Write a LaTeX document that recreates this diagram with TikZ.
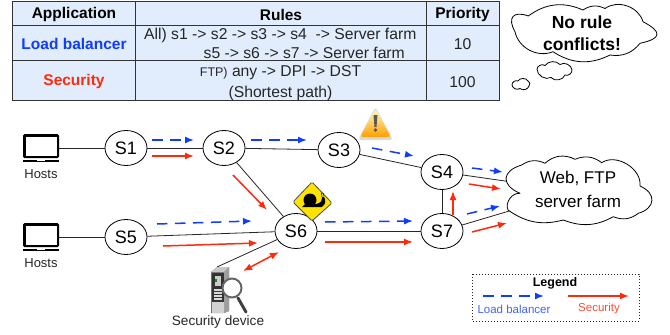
\documentclass[tikz,border=0pt]{standalone}
\usepackage{fontspec}
\setmainfont{Liberation Sans}
\usetikzlibrary{shapes.geometric,arrows.meta,calc}
\definecolor{tb}{HTML}{E1ECFD}
\definecolor{bl}{HTML}{0F3CFF}
\definecolor{rd}{HTML}{FF2A0C}
\tikzset{
 sw/.style={draw=black,line width=0.8pt,ellipse,minimum width=42pt,minimum height=35pt,inner sep=0pt,font=\fontsize{18}{18}\selectfont,fill=white},
 lnk/.style={draw=black!85,line width=0.8pt},
 cell/.style={draw=black!80,line width=1pt,fill=tb},
 ttxt/.style={font=\fontsize{15.7}{16}\selectfont,align=center,text=black!85},
 thead/.style={font=\fontsize{15.5}{16}\selectfont\bfseries,align=center},
 blarr/.style={draw=bl,line width=1.5pt,dash pattern=on 10.5pt off 7.5pt,-{Latex[length=9pt,width=7pt]}},
 rdarr/.style={draw=rd,line width=1.5pt,-{Latex[length=9pt,width=7pt]}},
 rddbl/.style={draw=rd,line width=1.5pt,{Latex[length=9pt,width=7pt]}-{Latex[length=9pt,width=7pt]}},
 small/.style={font=\fontsize{13}{14}\selectfont,text=black!85},
 puff/.style={draw=black,line width=0.8pt,fill=white,line join=round},
 bb/.style 2 args={bend left=#1,looseness=#2},
}
\newcommand{\laptop}[2]{%
 \fill[black,rounded corners=1.5pt] (#1-18,#2-15) rectangle (#1+18,#2+9);
 \fill[white] (#1-15.5,#2-12.5) rectangle (#1+15.5,#2+6.5);
 \fill[black] (#1-18,#2+10.5) rectangle (#1+18,#2+13);
 \fill[white] (#1-4,#2+10.5) rectangle (#1+4,#2+11.3);
}
\begin{document}
\begin{tikzpicture}[x=1pt,y=-1pt]
\useasboundingbox (0,0) rectangle (670,335);
% table
\foreach \xa/\xb/\ya/\yb in {12.7/135/1.7/25,135/426.3/1.7/25,426.3/499/1.7/25,12.7/135/25/60,135/426.3/25/60,426.3/499/25/60,12.7/135/60/100.7,135/426.3/60/100.7,426.3/499/60/100.7}
 \draw[cell] (\xa,\ya) rectangle (\xb,\yb);
\node[thead] (h1) at (74,14.5) {Application};
\node[thead] (h2) at (281,14.5) {Rules};
\node[thead] (h3) at (462.5,14.5) {Priority};
\node[thead,text=bl] (a1) at (74,44) {Load balancer};
\node[thead,text=rd] (a2) at (74,81) {Security};
\node[ttxt,anchor=base west,inner sep=0pt] (r1) at (144,39) {All) s1 -> s2 -> s3 -> s4 \ -> Server farm};
\node[ttxt,anchor=base west,inner sep=0pt] (r2) at (203.5,58) {s5 -> s6 -> s7 -> Server farm};
\node[ttxt,anchor=base,inner sep=0pt] (r3) at (280.5,76.5) {{\fontsize{12.5}{12}\selectfont FTP)} any -> DPI -> DST};
\node[ttxt,anchor=base,inner sep=0pt] (r4) at (280.5,97) {(Shortest path)};
\node[ttxt] (p1) at (462.5,44) {10};
\node[ttxt] (p2) at (462.5,82) {100};
% thought cloud
\draw[puff] (515,31.7) to[bb={70}{2}] (528.3,16) to[bb={30}{1}] (583,10) to[bb={30}{1}] (605,8.5) to[bb={55}{1}] (643,21.7) to[bb={70}{2.6}] (640,43.3) to[bb={30}{1}] (610,55) to[bb={30}{1}] (553,51.7) to[bb={50}{1}] (515,31.7) -- cycle;
\node[font=\fontsize{17.5}{22}\selectfont\bfseries,align=center] (c1t) at (582,33) {No rule\\conflicts!};
\draw[puff] (537,69) to[bb={60}{1}] (545,65.5) to[bb={50}{1}] (560,64.5) to[bb={60}{1}] (572,70) to[bb={60}{1}] (565,75) to[bb={60}{1}] (551,77.5) to[bb={60}{1}] (537,69) -- cycle;
\draw[puff] (512,85) to[bb={60}{1}] (518,81) to[bb={60}{1}] (528,81) to[bb={70}{1}] (529,86) to[bb={60}{1}] (520,88.5) to[bb={60}{1}] (512,85) -- cycle;
% switches
\node[sw] (S1) at (126,148) {S1};
\node[sw] (S2) at (224,148) {S2};
\node[sw] (S3) at (339,150) {S3};
\node[sw] (S4) at (442,172) {S4};
\node[sw] (S5) at (126,237) {S5};
\node[sw] (S6) at (296,231) {S6};
\node[sw] (S7) at (442,231) {S7};
% hosts
\laptop{41}{149}
\laptop{41}{238}
\coordinate (L1) at (59,148);
\coordinate (L2) at (59,237);
\node[small] (H1) at (41,174) {Hosts};
\node[small] (H2) at (41,263) {Hosts};
% device
\coordinate (D) at (217,267);
\coordinate (Fa) at (512,182);
\coordinate (Fb) at (516,209);
% links
\draw[lnk] (L1) -- (S1);
\draw[lnk] (S1) -- (S2);
\draw[lnk] (S2) -- (S3);
\draw[lnk] (S3) -- (S4);
\draw[lnk] (S2) -- (S6);
\draw[lnk] (L2) -- (S5);
\draw[lnk] (S5) -- (S6);
\draw[lnk] (S6) -- (S7);
\draw[lnk] (S6) -- (D);
\draw[lnk] (S4) -- (S7);
\draw[lnk] (S4) -- (Fa);
\draw[lnk] (S7) -- (Fb);
% farm
\draw[puff] (520,193.3) to[bb={70}{1.9}] (521.7,165) to[bb={30}{1}] (545,163.3) to[bb={35}{1}] (575,159.3) to[bb={30}{1}] (601.7,162.7) to[bb={65}{1}] (640,186) to[bb={70}{1.7}] (638.3,213.3) to[bb={30}{1}] (613.3,216.7) to[bb={25}{1}] (563.3,220) to[bb={25}{1}] (508,210) to[bb={60}{1}] (520,193.3) -- cycle;
\node[font=\fontsize{17}{24}\selectfont,align=center] (Ft) at (578,189.5) {Web, FTP\\server farm};
% device drawing
\fill[black!55] (211,272) -- (217,267) -- (229,267) -- (229,311) -- (224,313) -- (211,313) -- cycle;
\fill[black!22] (211,272) -- (217,267) -- (229,267) -- (224,272) -- cycle;
\fill[black!38] (224,272) -- (229,267) -- (229,311) -- (224,313) -- cycle;
\fill[black!80] (212,273) rectangle (223.5,302);
\fill[black!18] (212,302) rectangle (223.5,313);
\fill[black!20] (215,276) rectangle (221,286);
\fill[green!60!black] (215,279) rectangle (216.5,282);
\foreach \yy in {289,292,295,298} \fill[black!15] (214,\yy) rectangle (222,\yy+1.5);
\draw[black!75,line width=3pt,line cap=round] (238,298) -- (246,312);
\draw[black!60,line width=2pt,fill=white] (232,288) circle (9.5);
\node[font=\fontsize{13.6}{14}\selectfont,text=black!85] (Dt) at (218,322) {Security device};
% flow arrows
\draw[blarr] (152,140) -- (194,140);
\draw[rdarr] (152,156) -- (194,156);
\draw[blarr] (251,140) -- (307,140);
\draw[blarr] (372,148) -- (414,156);
\draw[blarr] (472,168) -- (503,172);
\draw[rdarr] (469,184) -- (501,189);
\draw[blarr] (467,214) -- (500,206);
\draw[rdarr] (472,232) -- (507,223);
\draw[rdarr] (453,215) -- (453,191);
\draw[blarr] (325,222) -- (413,221);
\draw[rdarr] (325,242) -- (413,242);
\draw[blarr] (157,224) -- (252,221);
\draw[rdarr] (163,246) -- (258,243);
\draw[rdarr] (233,175) -- (267,210);
\draw[rddbl] (243,271) -- (279,252);
% warning
\fill[black!15,rounded corners=3pt] (358,140) -- (375.5,107) -- (393,140) -- cycle;
\shade[top color=orange!15!yellow!25,bottom color=orange!75!yellow,rounded corners=3pt] (360,137) -- (375.5,109) -- (391,137) -- cycle;
\fill[black!65] (373.5,115) -- (377.5,115) -- (376.5,127) -- (374.5,127) -- cycle;
\fill[black!65] (375.5,130) circle (1.8);
% snail
\fill[yellow!85!orange,draw=black!70,line width=0.8pt,rounded corners=1.5pt] (312,182) -- (332,203) -- (312,221) -- (293,202) -- cycle;
\fill[black] (310,200) circle (6.5);
\fill[black] (302,207) -- (322,207) .. controls (326,204) and (326,200) .. (324,197) -- (322,197) .. controls (322,202) and (320,203) .. (316,204) -- (305,204) -- cycle;
\draw[black,line width=0.5pt] (322,197) -- (321.5,193);
\draw[black,line width=0.5pt] (324,197) -- (323.5,193);
% legend
\draw[black!85,line width=1pt,dotted] (472,274) rectangle (639,321);
\node[font=\fontsize{12.5}{14}\selectfont\bfseries] (Lg) at (555,283) {Legend};
\coordinate (La) at (483,296); \coordinate (Lb) at (544,296);
\coordinate (Lc) at (568,296); \coordinate (Ld) at (629,296);
\draw[blarr] (La) -- (Lb);
\draw[rdarr] (Lc) -- (Ld);
\node[font=\fontsize{11.5}{14}\selectfont,text=bl!80] (Lt1) at (514,309) {Load balancer};
\node[font=\fontsize{11.5}{14}\selectfont,text=rd!85] (Lt2) at (599,309) {Security};
\end{tikzpicture}
\end{document}
